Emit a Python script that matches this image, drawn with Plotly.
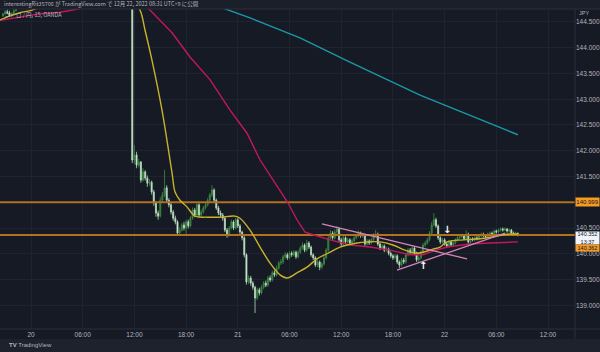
import plotly.graph_objects as go
import pandas as pd

# ---------------- data ----------------
early_times = ["2022-12-19 20:45", "2022-12-19 21:00", "2022-12-19 21:15", "2022-12-19 21:30",
               "2022-12-19 21:45", "2022-12-19 22:00", "2022-12-19 22:15"]
early_open = [144.62, 144.66, 144.70, 144.68, 144.62, 144.66, 144.72]
early_high = [144.68, 144.73, 144.74, 144.72, 144.69, 144.76, 144.82]
early_low = [144.60, 144.63, 144.65, 144.60, 144.59, 144.64, 144.70]
early_close = [144.66, 144.70, 144.68, 144.62, 144.66, 144.72, 144.78]

main_start = "2022-12-20 11:45"
main_first_open = 144.85
main_close = [
    141.82, 141.92, 141.72, 141.78, 141.43, 141.59, 141.47, 141.37, 141.39, 141.20,
    140.99, 140.79, 140.73, 141.04, 141.14, 141.28, 141.04, 140.95, 140.81, 140.69,
    140.62, 140.40, 140.46, 140.56, 140.50, 140.62, 140.54, 140.69, 140.85, 140.75,
    140.95, 140.75, 140.81, 140.89, 140.95, 141.04, 141.14, 141.24, 141.04, 140.89,
    140.79, 140.75, 140.69, 140.46, 140.36, 140.50, 140.62, 140.50, 140.66, 140.54,
    140.42, 140.31, 139.98, 139.45, 139.53, 139.43, 139.35, 139.14, 139.30, 139.24,
    139.35, 139.43, 139.39, 139.53, 139.49, 139.63, 139.59, 139.72, 139.82, 139.84,
    139.94, 139.98, 139.92, 140.01, 139.98, 140.03, 139.94, 140.03, 140.11, 140.17,
    140.07, 140.21, 140.13, 139.98, 139.92, 139.78, 139.84, 139.74, 139.80, 139.92,
    140.07, 140.31, 140.40, 140.31, 140.42, 140.48, 140.27, 140.19, 140.31, 140.23,
    140.27, 140.21, 140.25, 140.31, 140.35, 140.40, 140.35, 140.36, 140.19, 140.25,
    140.21, 140.27, 140.36, 140.38, 140.19, 140.11, 140.15, 140.07, 140.09, 140.01,
    139.96, 139.92, 139.96, 139.84, 139.78, 139.88, 139.84, 139.98, 140.07, 140.03,
    140.11, 140.01, 139.88, 139.92, 140.03, 140.17, 140.21, 140.27, 140.40, 140.56,
    140.66, 140.54, 140.31, 140.23, 140.27, 140.19, 140.15, 140.23, 140.17, 140.21,
    140.27, 140.31, 140.33, 140.35, 140.29, 140.38, 140.23, 140.29, 140.27, 140.31,
    140.29, 140.35, 140.38, 140.35, 140.33, 140.38, 140.40, 140.38, 140.44, 140.42,
    140.46, 140.48, 140.46, 140.48, 140.44, 140.46, 140.40, 140.38, 140.40, 140.352]
main_high = [
    144.95, 142.11, 141.98, 141.84, 141.80, 141.66, 141.62, 141.52, 141.45, 141.42,
    141.24, 141.02, 140.84, 141.10, 141.20, 141.63, 141.33, 141.08, 140.99, 140.85,
    140.74, 140.65, 140.52, 140.60, 140.62, 140.66, 140.66, 140.73, 140.90, 140.89,
    141.00, 140.98, 140.86, 140.93, 141.00, 141.08, 141.18, 141.33, 141.27, 141.07,
    140.93, 140.84, 140.79, 140.72, 140.50, 140.54, 140.66, 140.65, 140.70, 140.69,
    140.58, 140.45, 140.34, 140.01, 139.58, 139.57, 139.47, 139.38, 139.34, 139.34,
    139.39, 139.47, 139.48, 139.57, 139.58, 139.67, 139.68, 139.77, 139.86, 139.90,
    139.98, 140.03, 140.02, 140.05, 140.05, 140.07, 140.06, 140.07, 140.15, 140.22,
    140.20, 140.27, 140.24, 140.16, 140.01, 139.95, 139.88, 139.87, 139.84, 139.96,
    140.11, 140.35, 140.46, 140.44, 140.47, 140.54, 140.51, 140.31, 140.35, 140.34,
    140.31, 140.30, 140.29, 140.34, 140.39, 140.45, 140.43, 140.41, 140.39, 140.29,
    140.28, 140.31, 140.40, 140.46, 140.41, 140.22, 140.19, 140.18, 140.13, 140.12,
    140.04, 139.99, 140.00, 139.99, 139.87, 139.92, 139.92, 140.02, 140.11, 140.11,
    140.15, 140.14, 140.04, 139.96, 140.07, 140.21, 140.25, 140.31, 140.44, 140.62,
    140.79, 140.70, 140.57, 140.34, 140.31, 140.30, 140.23, 140.27, 140.26, 140.25,
    140.30, 140.35, 140.37, 140.39, 140.38, 140.46, 140.41, 140.32, 140.32, 140.34,
    140.34, 140.38, 140.41, 140.41, 140.38, 140.41, 140.43, 140.43, 140.47, 140.47,
    140.49, 140.51, 140.51, 140.51, 140.50, 140.49, 140.48, 140.43, 140.43, 140.41]
main_low = [
    141.76, 141.74, 141.66, 141.68, 141.38, 141.40, 141.42, 141.30, 141.32, 141.15,
    140.93, 140.72, 140.66, 140.70, 141.00, 141.10, 141.00, 140.90, 140.76, 140.64,
    140.57, 140.36, 140.37, 140.43, 140.45, 140.38, 140.49, 140.51, 140.66, 140.71,
    140.72, 140.70, 140.71, 140.78, 140.86, 140.92, 141.01, 141.10, 141.00, 140.85,
    140.75, 140.71, 140.64, 140.42, 140.31, 140.33, 140.47, 140.46, 140.47, 140.50,
    140.38, 140.26, 139.93, 139.40, 139.41, 139.38, 139.30, 138.85, 139.10, 139.19,
    139.21, 139.31, 139.35, 139.36, 139.45, 139.46, 139.55, 139.56, 139.69, 139.78,
    139.80, 139.90, 139.88, 139.89, 139.94, 139.95, 139.90, 139.91, 140.00, 140.08,
    140.03, 140.04, 140.09, 139.94, 139.88, 139.74, 139.74, 139.68, 139.70, 139.77,
    139.89, 140.04, 140.28, 140.27, 140.28, 140.38, 140.23, 140.15, 140.16, 140.19,
    140.20, 140.17, 140.18, 140.22, 140.28, 140.32, 140.31, 140.31, 140.15, 140.16,
    140.17, 140.18, 140.24, 140.33, 140.15, 140.07, 140.08, 140.03, 140.04, 139.97,
    139.92, 139.88, 139.89, 139.80, 139.72, 139.75, 139.80, 139.81, 139.95, 139.99,
    140.00, 139.97, 139.84, 139.84, 139.89, 140.00, 140.13, 140.18, 140.24, 140.37,
    140.53, 140.50, 140.27, 140.19, 140.20, 140.16, 140.11, 140.12, 140.13, 140.14,
    140.18, 140.24, 140.28, 140.30, 140.26, 140.26, 140.19, 140.20, 140.24, 140.24,
    140.26, 140.26, 140.32, 140.32, 140.30, 140.30, 140.35, 140.35, 140.35, 140.39,
    140.39, 140.43, 140.43, 140.44, 140.41, 140.41, 140.37, 140.35, 140.36, 140.34]

ma_fast_t = ["2022-12-19 20:24", "2022-12-19 21:34", "2022-12-19 22:43", "2022-12-20 00:07",
             "2022-12-20 02:00", "2022-12-20 08:00", "2022-12-20 11:45", "2022-12-20 12:39",
             "2022-12-20 13:14", "2022-12-20 14:02", "2022-12-20 15:12", "2022-12-20 16:22",
             "2022-12-20 16:43", "2022-12-20 17:17", "2022-12-20 18:06", "2022-12-20 19:02",
             "2022-12-20 20:25", "2022-12-20 21:56", "2022-12-20 23:40", "2022-12-21 00:15",
             "2022-12-21 01:25", "2022-12-21 02:35", "2022-12-21 03:44", "2022-12-21 04:54",
             "2022-12-21 05:43", "2022-12-21 06:52", "2022-12-21 08:02", "2022-12-21 09:11",
             "2022-12-21 10:21", "2022-12-21 11:52", "2022-12-21 13:50", "2022-12-21 14:59",
             "2022-12-21 16:30", "2022-12-21 18:00", "2022-12-21 19:24", "2022-12-21 20:34",
             "2022-12-21 21:29", "2022-12-21 22:39", "2022-12-21 23:28", "2022-12-22 00:17",
             "2022-12-22 02:08", "2022-12-22 04:06", "2022-12-22 05:37", "2022-12-22 07:15",
             "2022-12-22 08:30"]
ma_fast_v = [144.54, 144.62, 144.68, 144.73, 144.85, 144.90, 144.92, 144.73,
             144.34, 143.76, 142.79, 141.57, 141.20, 141.04, 140.91, 140.73,
             140.71, 140.71, 140.73, 140.69, 140.46, 140.13, 139.82, 139.59,
             139.53, 139.63, 139.74, 139.90, 140.00, 140.13, 140.21, 140.23,
             140.23, 140.17, 140.07, 140.01, 140.03, 140.09, 140.13, 140.23,
             140.27, 140.29, 140.33, 140.38, 140.38]

ma_mid_t = ["2022-12-19 20:24", "2022-12-19 22:43", "2022-12-20 01:03", "2022-12-20 03:22",
            "2022-12-20 05:27", "2022-12-20 07:26", "2022-12-20 10:20", "2022-12-20 13:35",
            "2022-12-20 16:22", "2022-12-20 18:27", "2022-12-20 20:46", "2022-12-20 23:06",
            "2022-12-21 01:04", "2022-12-21 02:35", "2022-12-21 04:05", "2022-12-21 05:49",
            "2022-12-21 06:52", "2022-12-21 07:48", "2022-12-21 08:57", "2022-12-21 10:42",
            "2022-12-21 13:01", "2022-12-21 15:20", "2022-12-21 17:40", "2022-12-21 19:59",
            "2022-12-21 21:29", "2022-12-21 22:39", "2022-12-22 00:17", "2022-12-22 02:57",
            "2022-12-22 05:16", "2022-12-22 08:30"]
ma_mid_v = [144.53, 144.60, 144.66, 144.69, 144.75, 144.85, 144.93, 144.77,
            144.29, 143.82, 143.38, 142.79, 142.34, 141.82, 141.43, 140.99,
            140.66, 140.42, 140.36, 140.27, 140.17, 140.13, 140.07, 139.98,
            139.98, 140.05, 140.13, 140.19, 140.21, 140.23]

ma_slow_t = ["2022-12-20 19:37", "2022-12-20 22:31", "2022-12-21 01:25", "2022-12-21 07:13",
             "2022-12-21 13:01", "2022-12-21 21:09", "2022-12-22 02:57", "2022-12-22 08:30"]
ma_slow_v = [144.93, 144.75, 144.58, 144.19, 143.72, 143.08, 142.69, 142.31]

trend_upper_t = ["2022-12-21 09:46", "2022-12-22 02:36"]
trend_upper_v = [140.58, 139.90]
trend_lower_t = ["2022-12-21 18:28", "2022-12-22 07:01"]
trend_lower_v = [139.68, 140.40]

levels = [140.999, 140.362]
last_price = 140.352
countdown = "13:37"

arrow_t = ["2022-12-22 00:17", "2022-12-21 21:29"]
arrow_v = [140.47, 139.77]
arrow_txt = ["↓", "↑"]

tick_times = ["2022-12-20 00:00", "2022-12-20 06:00", "2022-12-20 12:00", "2022-12-20 18:00",
              "2022-12-21 00:00", "2022-12-21 06:00", "2022-12-21 12:00", "2022-12-21 18:00",
              "2022-12-22 00:00", "2022-12-22 06:00", "2022-12-22 12:00"]
tick_text = ["20", "06:00", "12:00", "18:00", "21", "06:00", "12:00", "18:00", "22", "06:00", "12:00"]
price_ticks = [139.0, 139.5, 140.0, 140.5, 141.0, 141.5, 142.0, 142.5, 143.0, 143.5, 144.0, 144.5]
price_hidden = [141.0]  # covered by the 140.999 badge in the reference

# -------------- build --------------
main_times = pd.date_range(main_start, periods=len(main_close), freq="15min")
main_open = [main_first_open] + main_close[:-1]
times = list(pd.to_datetime(early_times)) + list(main_times)
opens = early_open + main_open
highs = early_high + main_high
lows = early_low + main_low
closes = early_close + main_close

BG = "#161a25"
TXT = "#b2b5be"
GRID = "#1f2330"

fig = go.Figure()
for lv in levels:
    fig.add_trace(go.Scatter(x=["2022-12-19 18:00", "2022-12-22 18:00"], y=[lv, lv], mode="lines",
                             line=dict(color="#b3711f", width=2), hoverinfo="skip", showlegend=False))

fig.add_trace(go.Candlestick(
    x=times, open=opens, high=highs, low=lows, close=closes,
    increasing=dict(line=dict(color="#3f8a45", width=0.8), fillcolor="#2f6e36"),
    decreasing=dict(line=dict(color="#b5dcb9", width=0.8), fillcolor="#e3f3e5"),
    whiskerwidth=0, showlegend=False))

fig.add_trace(go.Scatter(x=ma_slow_t, y=ma_slow_v, mode="lines",
                         line=dict(color="#1a98a6", width=1.4), showlegend=False))
fig.add_trace(go.Scatter(x=ma_mid_t, y=ma_mid_v, mode="lines",
                         line=dict(color="#c2185b", width=1.4), showlegend=False))
fig.add_trace(go.Scatter(x=ma_fast_t, y=ma_fast_v, mode="lines", line_shape="spline",
                         line=dict(color="#c9b22a", width=1.4), showlegend=False))
fig.add_trace(go.Scatter(x=trend_upper_t, y=trend_upper_v, mode="lines",
                         line=dict(color="#d585b8", width=1.3), showlegend=False))
fig.add_trace(go.Scatter(x=trend_lower_t, y=trend_lower_v, mode="lines",
                         line=dict(color="#d585b8", width=1.3), showlegend=False))

for t, v, s in zip(arrow_t, arrow_v, arrow_txt):
    fig.add_annotation(x=t, y=v, text="<b>" + s + "</b>", showarrow=False,
                       font=dict(color="#ffffff", size=10, family="DejaVu Sans"))

# price badges on the right scale
badge_font = dict(family="Liberation Sans, Arial", size=6, color="#131722")
fig.add_annotation(xref="paper", x=1.0, xanchor="left", y=levels[0], text="140.999",
                   showarrow=False, bgcolor="#f59a23", font=badge_font, borderpad=0,
                   width=23, height=8)
fig.add_annotation(xref="paper", x=1.0, xanchor="left", y=last_price, yshift=-2,
                   text="140.352<br>" + countdown, showarrow=False, bgcolor="#f0f3fa",
                   font=dict(family="Liberation Sans, Arial", size=5.5, color="#131722"),
                   borderpad=0, width=23, height=12)
fig.add_annotation(xref="paper", x=1.0, xanchor="left", y=last_price, yshift=-12,
                   text="140.362", showarrow=False, bgcolor="#f59a23",
                   font=dict(family="Liberation Sans, Arial", size=5.5, color="#131722"),
                   borderpad=0, width=23, height=6)
fig.add_annotation(xref="paper", yref="paper", x=1.0, xanchor="left", xshift=2, y=0.9875,
                   yanchor="middle", text="JPY", showarrow=False,
                   font=dict(family="Liberation Sans, Arial", size=5.5, color=TXT))

# header / legend / footer texts
fig.add_annotation(xref="paper", yref="paper", x=0.004, y=1.0156, xanchor="left", yanchor="middle",
                   text="interestingRit35706 が TradingView.com で 12月 22, 2022 08:31 UTC+9 に公開",
                   showarrow=False, font=dict(family="Noto Sans CJK JP", size=5.5, color=TXT))
fig.add_annotation(xref="paper", yref="paper", x=0.006, y=0.981, xanchor="left", yanchor="middle",
                   text="ユーロ / 円, 15, OANDA", showarrow=False,
                   font=dict(family="Noto Sans CJK JP", size=5.5, color=TXT))
fig.add_annotation(xref="paper", yref="paper", x=0.012, y=-0.05, xanchor="left", yanchor="middle",
                   text="<b>TV</b> TradingView", showarrow=False,
                   font=dict(family="Liberation Sans, Arial", size=6, color=TXT))

shapes = [
    dict(type="rect", xref="paper", yref="paper", x0=0, x1=1.05, y0=1.0, y1=1.03,
         fillcolor="#1b1f2a", line_width=0, layer="above"),
    dict(type="line", xref="paper", yref="paper", x0=0, x1=1.05, y0=1.0, y1=1.0,
         line=dict(color="#2a2e39", width=1)),
    dict(type="rect", xref="paper", yref="paper", x0=-0.01, x1=1.05, y0=-0.0313, y1=-0.08,
         fillcolor="#1e222d", line_width=0, layer="below"),
    dict(type="line", xref="paper", yref="paper", x0=0, x1=1.05, y0=0, y1=0,
         line=dict(color="#2a2e39", width=1)),
    dict(type="line", xref="paper", yref="paper", x0=1.0, x1=1.0, y0=-0.0313, y1=1.0,
         line=dict(color="#2a2e39", width=1)),
]

fig.update_layout(
    width=600, height=352,
    margin=dict(l=0, r=25, t=9, b=23),
    paper_bgcolor=BG, plot_bgcolor=BG,
    shapes=shapes,
    showlegend=False,
    xaxis=dict(
        type="date", range=["2022-12-19 20:24", "2022-12-22 15:08"],
        rangeslider=dict(visible=False),
        tickmode="array", tickvals=tick_times, ticktext=tick_text,
        showgrid=True, gridcolor=GRID, gridwidth=1, zeroline=False,
        ticks="", tickfont=dict(family="Liberation Sans, Arial", size=6.5, color=TXT),
        showline=False, fixedrange=True,
    ),
    yaxis=dict(
        side="right", range=[138.539, 144.752],
        tickmode="array", tickvals=price_ticks,
        ticktext=["" if p in price_hidden else "%.3f" % p for p in price_ticks],
        showgrid=True, gridcolor=GRID, gridwidth=1, zeroline=False,
        ticks="", tickfont=dict(family="Liberation Sans, Arial", size=6.5, color=TXT),
        showline=False,
    ),
)

fig.write_html("out.html")
